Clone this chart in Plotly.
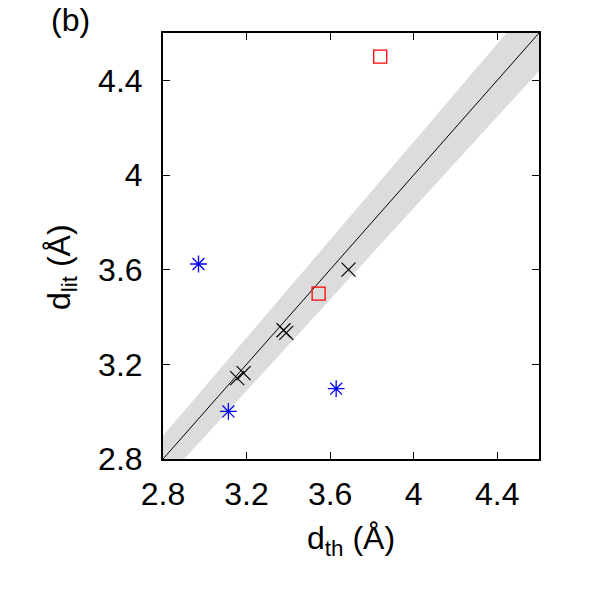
import plotly.graph_objects as go

# data
cross_x = [3.688, 3.377, 3.390, 3.186, 3.155]
cross_y = [3.600, 3.344, 3.333, 3.163, 3.142]
square_x = [3.840, 3.545]
square_y = [4.500, 3.499]
star_x = [2.970, 3.113, 3.629]
star_y = [3.624, 3.001, 3.097]
band_frac = 0.035
diag = [2.7, 4.8]
tick_vals = [2.8, 3.2, 3.6, 4.0, 4.4]
tick_text = ["2.8", "3.2", "3.6", "4", "4.4"]

FONT = "Liberation Sans, Arial, sans-serif"
FS = 32

fig = go.Figure()
band_x = diag + diag[::-1]
band_y = [v * (1 - band_frac) for v in diag] + [v * (1 + band_frac) for v in diag[::-1]]
fig.add_trace(go.Scatter(x=band_x, y=band_y, fill="toself", fillcolor="#dcdcdc",
                         line=dict(width=0), mode="lines", hoverinfo="skip"))
fig.add_trace(go.Scatter(x=diag, y=diag, mode="lines", line=dict(color="black", width=1)))
fig.add_trace(go.Scatter(x=cross_x, y=cross_y, mode="markers",
                         marker=dict(symbol="x-thin-open", size=14, color="black",
                                     line=dict(color="black", width=1.2))))
fig.add_trace(go.Scatter(x=square_x, y=square_y, mode="markers",
                         marker=dict(symbol="square-open", size=13, color="red", line=dict(color="red", width=1.3))))
fig.add_trace(go.Scatter(x=star_x, y=star_y, mode="markers",
                         marker=dict(symbol="asterisk-open", size=14, color="blue", line=dict(color="blue", width=1.3))))

axis_common = dict(range=[2.8, 4.6], tickvals=tick_vals, ticktext=tick_text,
                   ticks="inside", ticklen=7, tickwidth=1, tickcolor="black",
                   showline=True, linecolor="black", linewidth=2, mirror="ticks",
                   showgrid=False, zeroline=False,
                   tickfont=dict(family=FONT, size=FS, color="black"))
fig.update_xaxes(**axis_common, ticklabelstandoff=6)
fig.update_yaxes(**axis_common, ticklabelstandoff=12)

fig.update_layout(
    width=600, height=600, showlegend=False,
    margin=dict(l=163, r=61, t=33, b=141),
    paper_bgcolor="white", plot_bgcolor="white",
    annotations=[
        dict(text="d<sub>th</sub> (Å)", xref="paper", yref="paper", x=0.5, y=-0.192,
             xanchor="center", yanchor="middle", showarrow=False,
             font=dict(family=FONT, size=FS, color="black")),
        dict(text="d<sub>lit</sub> (Å)", xref="paper", yref="paper", x=-0.27, y=0.452,
             xanchor="center", yanchor="middle", textangle=-90, showarrow=False,
             font=dict(family=FONT, size=FS, color="black")),
        dict(text="(b)", xref="paper", yref="paper", x=-0.245, y=1.03,
             xanchor="center", yanchor="middle", showarrow=False,
             font=dict(family=FONT, size=FS, color="black")),
    ],
)
fig.write_html("out.html")
